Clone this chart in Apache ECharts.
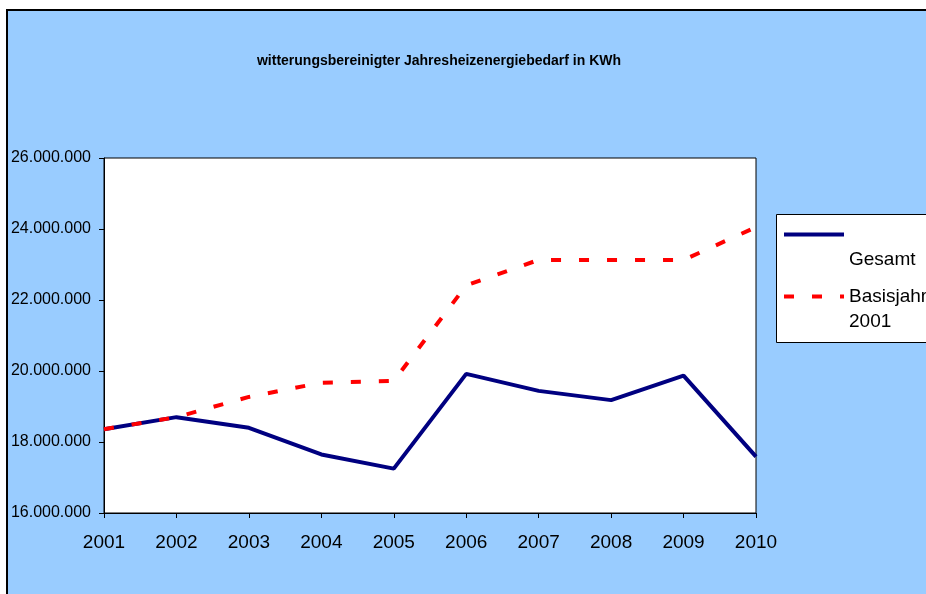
<!DOCTYPE html>
<html>
<head>
<meta charset="utf-8">
<script src="https://cdn.jsdelivr.net/npm/echarts@6/dist/echarts.min.js"></script>
<style>
html,body{margin:0;padding:0;background:#fff;}
#c{width:926px;height:594px;}
</style>
</head>
<body>
<div id="c"></div>
<script>
const years = ['2001','2002','2003','2004','2005','2006','2007','2008','2009','2010'];
const gesamt = [18360000, 18700000, 18400000, 17650000, 17250000, 19920000, 19440000, 19180000, 19870000, 17590000];
const basisjahr = [18360000, 18700000, 19270000, 19670000, 19720000, 22410000, 23130000, 23130000, 23130000, 24050000];
const yMin = 16000000, yMax = 26000000, yStep = 2000000;
const titleText = 'witterungsbereinigter Jahresheizenergiebedarf in KWh';
const seriesNames = ['Gesamt', 'Basisjahr 2001'];

function fmt(v){ return String(v).replace(/\B(?=(\d{3})+(?!\d))/g, '.'); }

const FONT = '"Liberation Sans", Arial, sans-serif';
const legendText = { fontFamily: FONT, fontSize: 19, color: '#000', lineHeight: 25 };
const chart = echarts.init(document.getElementById('c'));
chart.setOption({
  backgroundColor: '#ffffff',
  animation: false,
  title: {
    text: titleText,
    left: 434, top: 49, textAlign: 'center',
    textStyle: { fontFamily: FONT, fontSize: 14, fontWeight: 'bold', color: '#000' }
  },
  graphic: [
    { type: 'rect', z: -100, shape: { x: 7, y: 10, width: 1000, height: 1000 },
      style: { fill: '#99CCFF', stroke: '#000', lineWidth: 2 } },
    { type: 'rect', z: 1, shape: { x: 776.5, y: 214.5, width: 200, height: 128 },
      style: { fill: '#fff', stroke: '#000', lineWidth: 1 } }
  ],
  grid: {
    left: 104, top: 158, right: 170, bottom: 81,
    show: true, backgroundColor: '#fff', borderColor: '#000', borderWidth: 1
  },
  legend: [
    {
      data: [seriesNames[0]], orient: 'vertical', left: 782, top: 197, padding: 0,
      itemWidth: 60, itemHeight: 6, itemGap: 0, z: 10,
      lineStyle: { width: 4 }, itemStyle: { opacity: 0 },
      formatter: () => '\n\nGesamt',
      textStyle: legendText
    },
    {
      data: [seriesNames[1]], orient: 'vertical', left: 782, top: 259, padding: 0,
      itemWidth: 60, itemHeight: 6, itemGap: 0, z: 10,
      lineStyle: { width: 4 }, itemStyle: { opacity: 0 },
      formatter: () => '\nBasisjahr\n2001',
      textStyle: legendText
    }
  ],
  xAxis: {
    type: 'category', data: years, boundaryGap: false,
    axisLine: { lineStyle: { color: '#000', width: 1 } },
    axisTick: { show: true, length: 5, lineStyle: { color: '#000' }, alignWithLabel: true },
    axisLabel: { fontFamily: FONT, fontSize: 19, color: '#000', margin: 20, interval: 0 },
    splitLine: { show: false }
  },
  yAxis: {
    type: 'value', min: yMin, max: yMax, interval: yStep,
    axisLine: { show: true, lineStyle: { color: '#000', width: 1 } },
    axisTick: { show: true, length: 5, lineStyle: { color: '#000' } },
    axisLabel: { fontFamily: FONT, fontSize: 16, color: '#000', margin: 13, formatter: fmt },
    splitLine: { show: false }
  },
  series: [
    { name: seriesNames[0], type: 'line', data: gesamt, symbol: 'none',
      lineStyle: { color: '#000080', width: 4 }, itemStyle: { color: '#000080' } },
    { name: seriesNames[1], type: 'line', data: basisjahr, symbol: 'none',
      lineStyle: { color: '#FF0000', width: 4, type: [10, 18] }, itemStyle: { color: '#FF0000' } }
  ]
});
</script>
</body>
</html>
